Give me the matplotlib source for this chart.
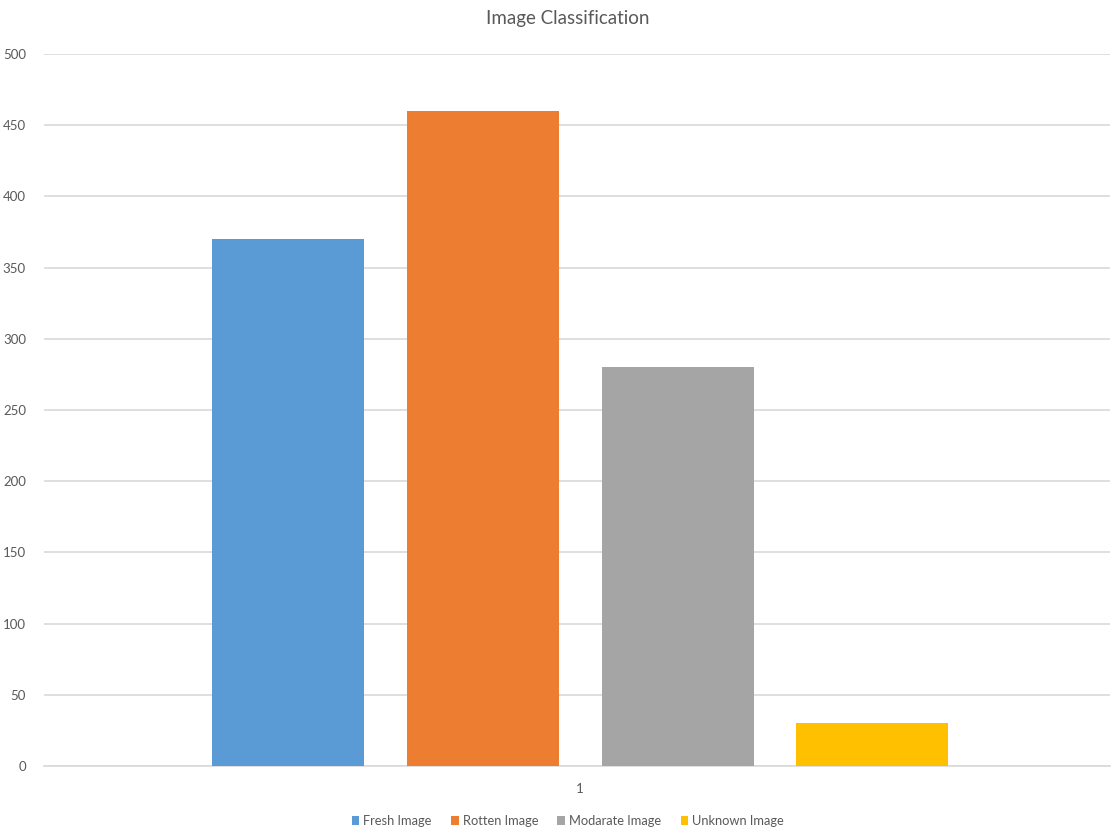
import numpy as np
import matplotlib.pyplot as plt

# dados
series = ["Fresh Image", "Rotten Image", "Modarate Image", "Unknown Image"]
valores = [370, 460, 280, 30]
cores = ["#5B9BD5", "#ED7D31", "#A5A5A5", "#FFC000"]
categoria = 1

plt.rcParams['font.family'] = ['Lato', 'DejaVu Sans']

fig = plt.figure(figsize=(11.11, 8.31), dpi=100)
ax = fig.add_axes([44/1111, 65/831, 1066/1111, 712/831])

passo = 0.1826
largura = 0.1426
offsets = (np.arange(len(series)) - 1.5) * passo
for off, v, c, nome in zip(offsets, valores, cores, series):
    ax.bar(categoria + off, v, width=largura, color=c, label=nome, zorder=3)

ax.set_xlim(0.497, 1.497)
ax.set_ylim(0, 500)
ax.set_yticks(np.arange(0, 501, 50))
ax.set_xticks([categoria])
ax.set_xticklabels(["1"])
ax.yaxis.grid(True, color="#D9D9D9", linewidth=1.2, zorder=0)
for s in ["top", "right", "left"]:
    ax.spines[s].set_visible(False)
ax.spines["bottom"].set_color("#D9D9D9")
ax.spines["bottom"].set_linewidth(1.2)
ax.tick_params(axis="both", length=0, colors="#595959", labelsize=9.5)
ax.tick_params(axis="y", pad=13)
ax.tick_params(axis="x", pad=12)

fig.text(0.511, 0.978, "Image Classification", ha="center", va="center",
         fontsize=13.5, color="#595959")

fig.legend(loc="center", bbox_to_anchor=(0.511, 0.012), ncol=4, frameon=False,
           fontsize=9.3, handlelength=0.6, handleheight=0.6, handletextpad=0.3,
           columnspacing=1.5, labelcolor="#595959")

fig.savefig("out.png", dpi=100)
